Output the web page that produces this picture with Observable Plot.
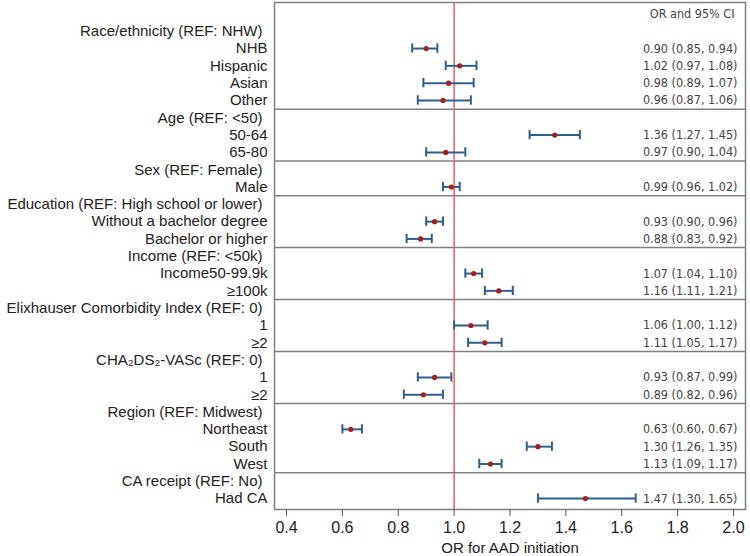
<!DOCTYPE html>
<html>
<head>
<meta charset="utf-8">
<script src="https://cdn.jsdelivr.net/npm/d3@7"></script>
<script src="https://cdn.jsdelivr.net/npm/@observablehq/plot@0.6"></script>
<style>
  html, body { margin: 0; padding: 0; background: #fff; }
  #chart svg { display: block; }
</style>
</head>
<body>
<div id="chart"></div>
<script>
const groupNames = [
  "Race/ethnicity (REF: NHW)",
  "Age (REF: <50)",
  "Sex (REF: Female)",
  "Education (REF: High school or lower)",
  "Income (REF: <50k)",
  "Elixhauser Comorbidity Index (REF: 0)",
  "CHA\u2082DS\u2082-VASc (REF: 0)",
  "Region (REF: Midwest)",
  "CA receipt (REF: No)"
];
const groupItems = [
  ["NHB", "Hispanic", "Asian", "Other"],
  ["50-64", "65-80"],
  ["Male"],
  ["Without a bachelor degree", "Bachelor or higher"],
  ["Income50-99.9k", "\u2265100k"],
  ["1", "\u22652"],
  ["1", "\u22652"],
  ["Northeast", "South", "West"],
  ["Had CA"]
];
const orValues = [
  [0.90, 1.02, 0.98, 0.96],
  [1.36, 0.97],
  [0.99],
  [0.93, 0.88],
  [1.07, 1.16],
  [1.06, 1.11],
  [0.93, 0.89],
  [0.63, 1.30, 1.13],
  [1.47]
];
const ciLow = [
  [0.85, 0.97, 0.89, 0.87],
  [1.27, 0.90],
  [0.96],
  [0.90, 0.83],
  [1.04, 1.11],
  [1.00, 1.05],
  [0.87, 0.82],
  [0.60, 1.26, 1.09],
  [1.30]
];
const ciHigh = [
  [0.94, 1.08, 1.07, 1.06],
  [1.45, 1.04],
  [1.02],
  [0.96, 0.92],
  [1.10, 1.21],
  [1.12, 1.17],
  [0.99, 0.96],
  [0.67, 1.35, 1.17],
  [1.65]
];
const xTicks = [0.4, 0.6, 0.8, 1.0, 1.2, 1.4, 1.6, 1.8, 2.0];
const columnHeader = "OR and 95% CI";
const xLabel = "OR for AAD initiation";

// Build row table
const headers = [];
const items = [];
const separators = [];
let row = 1;
groupNames.forEach((g, gi) => {
  if (gi > 0) separators.push(row - 0.5);
  headers.push({label: g, row});
  row++;
  groupItems[gi].forEach((lab, k) => {
    items.push({label: lab, row, or: orValues[gi][k], lo: ciLow[gi][k], hi: ciHigh[gi][k]});
    row++;
  });
});
const nRows = row; // includes row 0 for column header
const fmt = v => v.toFixed(2);
const capHalf = 0.27;

const chart = Plot.plot({
  width: 750,
  height: 556,
  marginLeft: 274,
  marginRight: 5,
  marginTop: 2,
  marginBottom: 47,
  style: {fontFamily: "'Liberation Sans', Arial, sans-serif", background: "#fff", color: "#222"},
  x: {domain: [0.357, 2.043]},
  y: {domain: [-0.66, nRows - 0.37], reverse: true, axis: null},
  marks: [
    Plot.ruleY(separators, {y: d => d, stroke: "#7f7f7f", strokeWidth: 1.5}),
    Plot.ruleX([1], {stroke: "#f25c5c", strokeWidth: 1.5}),
    Plot.ruleY(items, {y: "row", x1: "lo", x2: "hi", stroke: "#2f5f8c", strokeWidth: 2}),
    Plot.ruleX(items, {x: "lo", y1: d => d.row - capHalf, y2: d => d.row + capHalf, stroke: "#2f5f8c", strokeWidth: 2}),
    Plot.ruleX(items, {x: "hi", y1: d => d.row - capHalf, y2: d => d.row + capHalf, stroke: "#2f5f8c", strokeWidth: 2}),
    Plot.dot(items, {x: "or", y: "row", r: 2.6, fill: "#a81e1e", stroke: "none"}),
    Plot.frame({stroke: "#7f7f7f", strokeWidth: 1.5}),
    Plot.text(headers, {y: "row", text: "label", frameAnchor: "left", textAnchor: "end", dx: -12, fontSize: 15, fill: "#222"}),
    Plot.text(items, {y: "row", text: "label", frameAnchor: "left", textAnchor: "end", dx: -7, fontSize: 15, fill: "#222"}),
    Plot.text(items, {y: "row", text: d => `${fmt(d.or)} (${fmt(d.lo)}, ${fmt(d.hi)})`, frameAnchor: "right", textAnchor: "end", dx: -8, fontSize: 12.5, fill: "#444", fontFamily: "'Liberation Sans Narrow', 'DejaVu Sans Condensed', 'Liberation Sans', sans-serif"}),
    Plot.text([columnHeader], {y: 0, frameAnchor: "right", textAnchor: "end", dx: -11, fontSize: 12.5, fill: "#444", fontFamily: "'Liberation Sans Narrow', 'DejaVu Sans Condensed', 'Liberation Sans', sans-serif"}),
    Plot.axisX({ticks: xTicks, tickFormat: d => d.toFixed(1), tickSize: 7, tickPadding: 5, fontSize: 16, stroke: "#555", fill: "#222", label: null}),
    Plot.text([xLabel], {frameAnchor: "bottom", lineAnchor: "middle", dy: 39, fontSize: 15, fill: "#222"})
  ]
});
document.getElementById("chart").appendChild(chart);
</script>
</body>
</html>
